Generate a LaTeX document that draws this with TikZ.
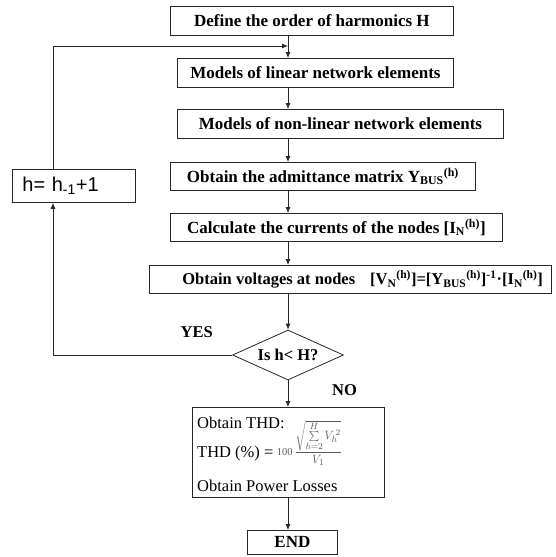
\documentclass[tikz,border=0pt]{standalone}
\usepackage{fontspec}
\setmainfont{Liberation Serif}
\newfontfamily\arialfont{Liberation Sans}
\usetikzlibrary{arrows.meta,shapes.geometric}
\newcommand\sbsp[2]{\textsubscript{#1}\textsuperscript{#2}}
\tikzset{
  flowbox/.style={draw=black!85, line width=0.8pt, inner sep=0pt, anchor=north west,
    font=\fontsize{17}{18}\selectfont\bfseries},
  flowarrow/.style={draw=black!85, line width=0.8pt, -{Latex[length=6pt,width=5pt]}},
  lbl/.style={inner sep=0pt, font=\fontsize{16.5}{18}\selectfont\bfseries},
  thdtext/.style={inner sep=0pt, anchor=base west, font=\fontsize{16.5}{18}\selectfont},
}
\begin{document}
\begin{tikzpicture}[x=1pt,y=-1pt]
\useasboundingbox (0,0) rectangle (555,557);
\coordinate (spine) at (288,0);
\coordinate (loopx) at (53,0);
\coordinate (loopy) at (0,46);

\node[flowbox, minimum width=283pt, minimum height=29pt] (b1) at (170,6) {Define the order of harmonics H};
\node[flowbox, minimum width=276pt, minimum height=29pt] (b2) at (177,58) {Models of linear network elements};
\node[flowbox, minimum width=326pt, minimum height=29pt] (b3) at (177,109) {Models of non-linear network elements};
\node[flowbox, minimum width=305pt, minimum height=28pt] (b4) at (170,162) {Obtain the admittance matrix Y\sbsp{BUS}{(h)}};
\node[flowbox, minimum width=332pt, minimum height=28pt] (b5) at (170,213) {Calculate the currents of the nodes [I\sbsp{N}{(h)}]};
\node[flowbox, text width=402pt, minimum height=28pt, align=flush left, font=\fontsize{16.5}{18}\selectfont\bfseries] (b6) at (149,265)
  {\hspace*{33pt}Obtain voltages at nodes\hspace{15pt}[V\sbsp{N}{(h)}]=[Y\sbsp{BUS}{(h)}]\textsuperscript{-1}·[I\sbsp{N}{(h)}]};

\node[diamond, draw=black!85, line width=0.8pt, minimum width=111pt, minimum height=50pt, inner sep=0pt, aspect=2.2,
  font=\fontsize{16.5}{18}\selectfont\bfseries] (dec) at (288,355) {Is h< H?};

\node[draw=black!85, line width=0.8pt, anchor=north west, text width=103pt, inner xsep=10pt, inner ysep=0pt,
  minimum height=33pt, align=left, font=\arialfont\fontsize{20}{22}\selectfont] (hbox) at (12,169) {h= h\textsubscript{-1}+1};

\node[draw=black!85, line width=0.8pt, anchor=north west, minimum width=192pt, minimum height=90pt, inner sep=0pt] (thd) at (192,407) {};
\node[thdtext] (thd1) at (197,428) {Obtain THD:};
\node[thdtext] (thd2) at (197,457) {THD (\%) =};
\node[inner sep=0pt, anchor=base west, text=black!65, font=\fontsize{10.5}{12}\selectfont] (thdf) at ([xshift=3pt,yshift=2pt]thd2.base east)
  {100\,{\fontsize{13}{15}\selectfont$\displaystyle\frac{\sqrt{\sum\limits_{h=2}^{H} V_h^{\,2}}}{V_1}$}};
\node[thdtext] (thd3) at (197,491) {Obtain Power Losses};

\node[flowbox, minimum width=90pt, minimum height=24pt] (endb) at (247,530) {END};

\node[lbl, anchor=base east] (yes) at (213,337) {YES};
\node[lbl, anchor=base west] (no) at (332,395) {NO};

\draw[flowarrow] (b1.south -| spine) -- (b2.north -| spine);
\draw[flowarrow] (b2.south -| spine) -- (b3.north -| spine);
\draw[flowarrow] (b3.south -| spine) -- (b4.north -| spine);
\draw[flowarrow] (b4.south -| spine) -- (b5.north -| spine);
\draw[flowarrow] (b5.south -| spine) -- (b6.north -| spine);
\draw[flowarrow] (b6.south -| spine) -- (dec.north);
\draw[flowarrow] (dec.south) -- (thd.north -| dec.south);
\draw[flowarrow] (thd.south -| spine) -- (endb.north -| spine);
\draw[flowarrow] (dec.west) -- (dec.west -| loopx) -- (hbox.south -| loopx);
\draw[flowarrow] (hbox.north -| loopx) -- (loopx |- loopy) -- (spine |- loopy);
\end{tikzpicture}
\end{document}
